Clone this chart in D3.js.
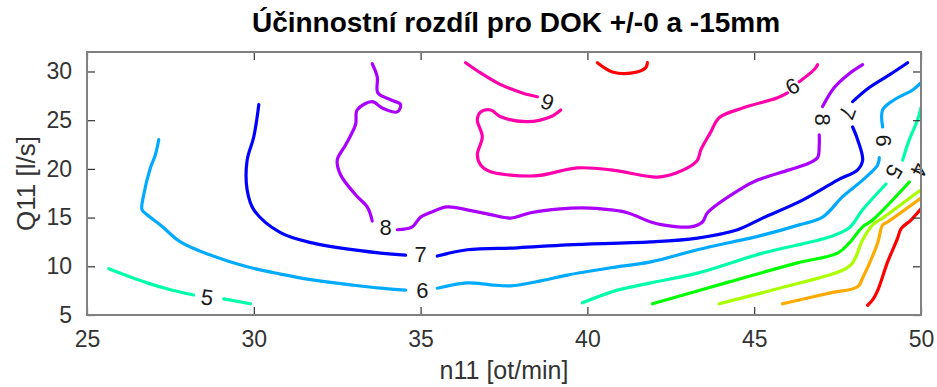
<!DOCTYPE html>
<html>
<head>
<meta charset="utf-8">
<script src="https://cdn.jsdelivr.net/npm/d3@7"></script>
<style>
  body { margin: 0; background: #fff; }
  svg text { font-family: "Liberation Sans", Arial, sans-serif; }
</style>
</head>
<body>
<div id="chart"></div>
<script>
// contour lines, [n11, Q11], one array per level (pieces split where a label sits)
const level1 = [[[48.4,6.0],[48.55,6.55],[48.7,7.5],[49.0,10.45],[49.3,12.9],[49.4,13.85],[49.7,14.75],[50,15.9]]];
const level2 = [[[45.85,6.15],[47.25,7.25],[48.1,7.9],[48.25,8.8],[48.7,12.4],[48.85,14.25],[49.0,14.55],[50,17.0]]];
const level3 = [[[43.95,6.15],[45.75,7.75],[47.65,9.6],[47.95,10.35],[48.25,12.7],[48.55,14.25],[48.85,14.95],[50,17.85]]];
const level4 = [[[41.95,6.15],[44.25,8.4],[46.3,10.35],[47.5,11.35],[47.85,12.4],[48.25,14.05],[48.55,14.75],[49.65,18.65]]];
const level5 = [
  [[25.65,9.75],[26.8,8.3],[27.5,7.6],[28.2,7.05]],
  [[29.1,6.65],[29.9,6.15]],
  [[39.85,6.25],[40.9,7.55],[41.9,8.3],[43.3,9.3],[45.25,11.35],[47.25,13.0],[47.85,13.95],[48.25,15.8],[48.95,18.45]],
  [[49.45,20.9],[49.65,23.0],[49.9,25.05],[50,26.3]]
];
const level6 = [
  [[27.15,23.0],[27.05,21.45],[26.9,20.1],[26.7,17.35],[26.65,15.8],[26.8,15.3],[27.2,14.25],[27.8,12.5],[28.7,11.15],[29.8,9.95],[30.8,9.2],[31.75,8.6],[32.9,8.1],[33.8,7.75],[34.55,7.55]],
  [[35.5,7.75],[36.4,8.3],[37.1,8.1],[37.7,8.0],[38.6,8.5],[39.4,9.1],[40.7,9.85],[41.9,10.45],[43.3,11.7],[45.25,13.2],[46.35,14.25],[47.05,15.05],[47.65,17.15],[48.25,18.85],[48.7,20.4],[48.75,21.15]],
  [[48.85,24.3],[48.85,26.05],[49.2,27.1],[49.75,28.1],[50,28.85]]
];
const level7 = [
  [[30.15,26.6],[30.0,23.3],[29.8,20.9],[29.8,17.85],[30.0,15.8],[30.8,13.45],[31.75,12.4],[33.8,11.35],[34.55,11.15]],
  [[35.5,11.05],[36.4,11.7],[37.9,11.9],[39.4,12.2],[41.9,12.5],[43.3,12.9],[44.5,13.75],[45.25,14.95],[46.45,16.8],[47.5,18.85],[48.1,19.9],[48.25,20.9],[48.1,23.0],[47.95,24.3]],
  [[47.95,26.9],[48.45,28.35],[49.05,29.65],[49.6,30.9]]
];
const level8 = [
  [[33.55,30.8],[33.7,29.45],[33.72,27.8],[34.1,27.1],[34.4,26.6],[34.3,25.85],[33.85,26.25],[33.55,26.9],[33.1,26.05],[33.05,24.55],[32.75,22.45],[32.5,20.9],[32.6,19.4],[33.05,17.35],[33.4,16.1],[33.5,15.3],[33.55,14.65]],
  [[34.3,13.75],[34.75,14.05],[35.0,15.05],[35.35,15.6],[35.8,16.1],[36.4,15.8],[37.1,15.3],[37.7,14.95],[38.3,15.5],[39.2,15.9],[39.85,16.0],[40.7,15.8],[41.2,15.5],[41.9,14.55],[42.25,14.25],[43.1,14.05],[43.45,14.55],[43.6,15.5],[44.55,17.85],[45.1,18.85],[46.05,19.9],[46.65,20.6],[46.9,21.15],[46.95,22.45],[46.95,23.5]],
  [[47.05,26.4],[47.4,28.35],[47.8,29.65],[48.25,30.7]]
];
const level9 = [
  [[36.35,30.9],[36.8,29.85],[37.4,28.65],[38.05,27.8],[38.5,27.4]],
  [[39.2,26.05],[38.9,25.35],[38.2,24.85],[37.4,25.35],[37.1,26.05],[36.8,25.85],[36.7,25.05],[36.85,23.3],[36.7,21.45],[36.8,20.4],[37.1,19.7],[37.6,19.4],[38.5,19.3],[39.7,20.1],[40.7,19.9],[41.9,19.2],[42.25,19.2],[43.0,20.1],[43.3,20.9],[43.4,21.95],[43.7,23.8],[43.95,25.25],[44.65,26.25],[45.7,27.3],[46.0,27.8]],
  [[46.35,28.95],[46.8,30.2],[46.9,30.7]]
];
const level10 = [[[40.3,30.9],[40.75,29.95],[41.35,29.85],[41.75,30.4],[41.8,30.9]]];

const levels = [1, 2, 3, 4, 5, 6, 7, 8, 9, 10];
const contourLines = [level1, level2, level3, level4, level5, level6, level7, level8, level9, level10];

// inline labels: [level, n11, Q11, rotation]
const contourLabels = [
  [5, 28.6, 6.85, 8], [6, 35.05, 7.6, 0], [7, 35.0, 11.25, 0], [8, 33.95, 14.05, 0],
  [9, 38.8, 26.9, 20], [9, 46.15, 28.45, 150], [8, 47.05, 25.05, 90], [7, 47.8, 25.75, 110],
  [6, 48.9, 22.9, 90], [5, 49.2, 19.7, 120], [4, 49.95, 19.9, 115]
];

const xTicks = [25, 30, 35, 40, 45, 50];
const yTicks = [5, 10, 15, 20, 25, 30];

const title = "Účinnostní rozdíl pro DOK +/-0 a -15mm";
const xTitle = "n11 [ot/min]";
const yTitle = "Q11 [l/s]";

const W = 937, H = 387;
const margin = {top: 52, right: 16, bottom: 72, left: 87};
const width = W - margin.left - margin.right;
const height = H - margin.top - margin.bottom;

const svg = d3.select("#chart").append("svg")
  .attr("width", W).attr("height", H);

const g = svg.append("g")
  .attr("transform", "translate(" + margin.left + "," + margin.top + ")");

const x = d3.scaleLinear().domain([25, 50]).range([0, width]);
const y = d3.scaleLinear().domain([5, 32]).range([height, 0]);

// hsv colormap over the levels
const color = lv => d3.hsl((lv - 1) / (levels.length - 1) * 360, 1, 0.5).formatHex();

g.append("clipPath").attr("id", "clip")
  .append("rect").attr("width", width).attr("height", height);

const line = d3.line()
  .x(d => x(d[0]))
  .y(d => y(d[1]))
  .curve(d3.curveCatmullRom.alpha(0.5));

const lines = g.append("g").attr("clip-path", "url(#clip)");
contourLines.forEach((pieces, i) => {
  pieces.forEach(p => {
    lines.append("path")
      .datum(p)
      .attr("fill", "none")
      .attr("stroke", color(levels[i]))
      .attr("stroke-width", 3.2)
      .attr("stroke-linecap", "round")
      .attr("stroke-linejoin", "round")
      .attr("d", line);
  });
});

g.append("g").selectAll("text")
  .data(contourLabels)
  .enter()
  .append("text")
  .attr("transform", d => "translate(" + x(d[1]) + "," + y(d[2]) + ")rotate(" + d[3] + ")")
  .attr("text-anchor", "middle")
  .attr("dy", "0.36em")
  .style("font-size", "22px")
  .style("fill", "#1a1a1a")
  .text(d => d[0]);

// axes with inward ticks, box round the plot
const axisColor = "#808080";
const tickLen = 8;

function styleAxis(sel) {
  sel.select(".domain").remove();
  sel.selectAll(".tick line").attr("stroke", "#333").attr("stroke-width", 1.2);
  sel.selectAll(".tick text").style("font-size", "23px").style("fill", "#333");
}

g.append("g")
  .attr("transform", "translate(0," + height + ")")
  .call(d3.axisBottom(x).tickValues(xTicks).tickSizeInner(-tickLen).tickPadding(16))
  .call(styleAxis);

g.append("g")
  .call(d3.axisTop(x).tickValues(xTicks).tickSizeInner(-tickLen).tickFormat(""))
  .call(styleAxis);

g.append("g")
  .call(d3.axisLeft(y).tickValues(yTicks).tickSizeInner(-tickLen).tickPadding(15))
  .call(styleAxis);

g.append("g")
  .attr("transform", "translate(" + width + ",0)")
  .call(d3.axisRight(y).tickValues(yTicks).tickSizeInner(-tickLen).tickFormat(""))
  .call(styleAxis);

g.append("rect")
  .attr("width", width).attr("height", height)
  .attr("fill", "none")
  .attr("stroke", axisColor)
  .attr("stroke-width", 2);

svg.append("text")
  .attr("x", margin.left + width / 2 + 12)
  .attr("y", 32)
  .attr("text-anchor", "middle")
  .style("font-size", "28px")
  .style("font-weight", "bold")
  .style("fill", "#000")
  .text(title);

svg.append("text")
  .attr("x", margin.left + width / 2)
  .attr("y", 379)
  .attr("text-anchor", "middle")
  .style("font-size", "25px")
  .style("fill", "#333")
  .text(xTitle);

svg.append("text")
  .attr("transform", "translate(35," + (margin.top + height / 2) + ")rotate(-90)")
  .attr("text-anchor", "middle")
  .style("font-size", "26px")
  .style("fill", "#333")
  .text(yTitle);
</script>
</body>
</html>
